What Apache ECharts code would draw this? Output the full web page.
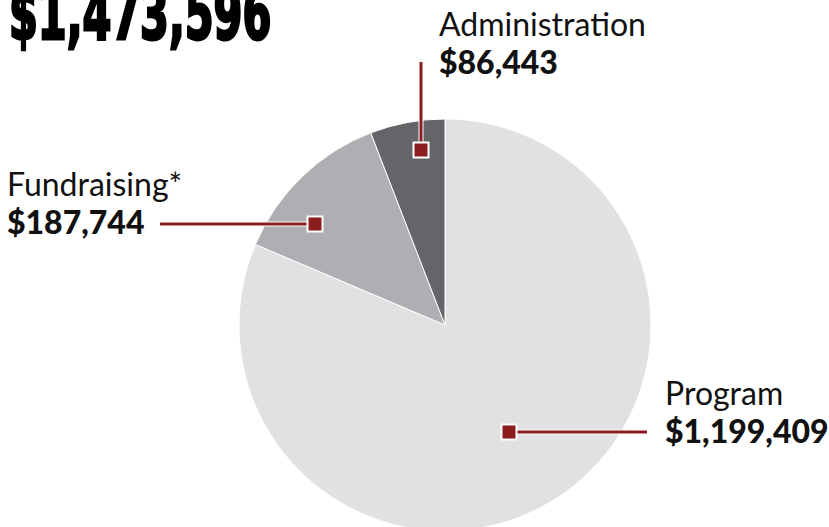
<!DOCTYPE html>
<html>
<head>
<meta charset="utf-8">
<script src="https://cdn.jsdelivr.net/npm/echarts@6/dist/echarts.min.js"></script>
<style>
html,body{margin:0;padding:0;background:#fff;}
#chart{width:829px;height:527px;}
</style>
</head>
<body>
<div id="chart"></div>
<script>
// ---- data ----
const totalLabel = "$1,473,596";
const categories = ["Program", "Fundraising*", "Administration"];
const values = [1199409, 187744, 86443];
const sliceColors = ["#e0e1e3", "#aeafb2", "#646568"];

// ---- layout (annotation positions only) ----
const labelPos = [[665, 373], [7, 164], [439, 4]];           // top-left of each label block
const markerPos = [[509, 432], [315, 224], [421, 150]];      // annotation squares
const lineEnd = [[647, 432], [160, 224], [421, 62]];         // far end of the leader lines
const RED = "#8c1c20";

function fmt(v){ return "$" + v.toLocaleString("en-US"); }

const chart = echarts.init(document.getElementById("chart"), null, {renderer: "svg"});

const graphics = [];
// title
graphics.push({
  type: "text", x: 9, y: 50, scaleX: 0.64, scaleY: 1, silent: true,
  style: {
    text: totalLabel, fill: "#000", stroke: "#000", lineWidth: 3,
    font: 'bold 72px "DejaVu Sans Condensed", "Liberation Sans Narrow", sans-serif',
    textAlign: "left", textVerticalAlign: "bottom"
  }
});
// leader lines + markers
for (let i = 0; i < values.length; i++) {
  const [mx, my] = markerPos[i], [ex, ey] = lineEnd[i];
  graphics.push({type: "line", silent: true, z: 10,
    shape: {x1: mx, y1: my, x2: ex, y2: ey},
    style: {stroke: "#fff", lineWidth: 5}});
  graphics.push({type: "line", silent: true, z: 11,
    shape: {x1: mx, y1: my, x2: ex, y2: ey},
    style: {stroke: RED, lineWidth: 3}});
  graphics.push({type: "rect", silent: true, z: 12,
    shape: {x: mx - 7.5, y: my - 7.5, width: 15, height: 15},
    style: {fill: RED, stroke: "#fff", lineWidth: 2}});
}

chart.setOption({
  animation: false,
  backgroundColor: "#fff",
  graphic: graphics,
  series: [{
    type: "pie",
    center: [445, 325],
    radius: 206,
    startAngle: 90,
    clockwise: true,
    silent: true,
    avoidLabelOverlap: false,
    itemStyle: {borderColor: "#fff", borderWidth: 1},
    emphasis: {disabled: true},
    labelLine: {show: false},
    label: {
      show: true,
      position: "outside",
      formatter: p => "{n|" + p.name + "}\n{v|" + fmt(p.value) + "}",
      rich: {
        n: {fontFamily: "Lato", fontSize: 32, fontWeight: "normal", color: "#111", lineHeight: 38},
        v: {fontFamily: "Lato", fontSize: 32, fontWeight: 900, color: "#111", lineHeight: 38}
      }
    },
    labelLayout: p => ({
      x: labelPos[p.dataIndex][0], y: labelPos[p.dataIndex][1],
      align: "left", verticalAlign: "top"
    }),
    data: categories.map((c, i) => ({
      name: c, value: values[i], itemStyle: {color: sliceColors[i]}
    }))
  }]
});
</script>
</body>
</html>
